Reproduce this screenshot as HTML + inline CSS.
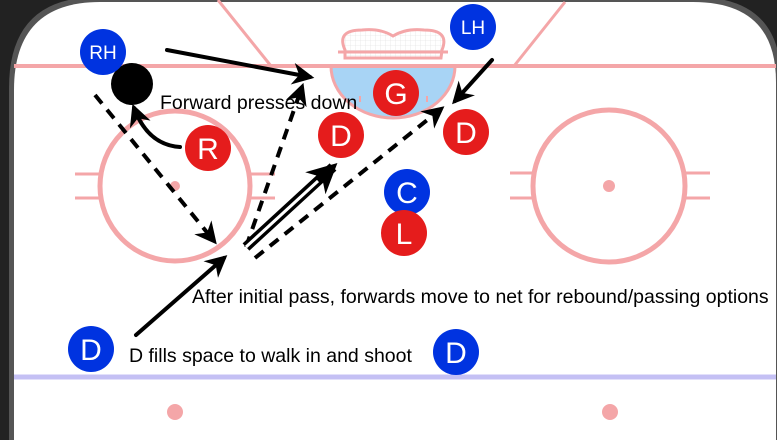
<!DOCTYPE html>
<html><head><meta charset="utf-8"><style>
html,body{margin:0;padding:0;background:#222;}
svg{display:block;}
text{font-family:"Liberation Sans",Arial,sans-serif;}
</style></head><body>
<svg width="777" height="440" viewBox="0 0 777 440" xmlns="http://www.w3.org/2000/svg">
<defs>
<marker id="ah" viewBox="0 0 10 10" refX="8" refY="5" markerWidth="5.5" markerHeight="5.5" orient="auto"><path d="M0,0 L10,5 L0,10 L3,5 z" fill="#000"/></marker>
<marker id="ah2" viewBox="0 0 10 10" refX="8" refY="5" markerWidth="3" markerHeight="3" orient="auto"><path d="M0,0 L10,5 L0,10 L3,5 z" fill="#000"/></marker>
<pattern id="grid" width="5" height="5" patternUnits="userSpaceOnUse"><path d="M5,0 L0,0 0,5" fill="none" stroke="#ddd" stroke-width="0.6"/></pattern>
</defs>
<rect width="777" height="440" fill="#222"/>
<path d="M9,440 L9,88 Q9,-3 98,-3 L695,-3 Q781,-3 781,80 L781,440 Z" fill="#555"/>
<path d="M14,440 L14,90 Q14,2 100,2 L693,2 Q776,2 776,82 L776,440 Z" fill="#fff"/>
<line x1="218" y1="0" x2="271" y2="66" stroke="#f4a6a8" stroke-width="3"/>
<line x1="565" y1="2" x2="514" y2="66" stroke="#f4a6a8" stroke-width="3"/>
<path d="M345,50 Q336,30 362,30 Q380,28 393,36 Q406,28 424,30 Q450,30 442,50 L441,58 L345,58 Z" fill="url(#grid)" stroke="#f4a6a8" stroke-width="3"/>
<line x1="338" y1="52" x2="448" y2="52" stroke="#f4a6a8" stroke-width="3"/>
<path d="M331,66 A62,52 0 0 0 455,66 Z" fill="#a8d4f5" stroke="#f4a6a8" stroke-width="3"/>
<line x1="360" y1="102" x2="360" y2="96" stroke="#f4a6a8" stroke-width="2"/>
<line x1="427" y1="102" x2="427" y2="96" stroke="#f4a6a8" stroke-width="2"/>
<line x1="14" y1="66" x2="776" y2="66" stroke="#f4a6a8" stroke-width="4"/>
<circle cx="175" cy="186" r="75" fill="none" stroke="#f4a6a8" stroke-width="5"/>
<g stroke="#f4a6a8" stroke-width="3"><line x1="75" y1="174" x2="100" y2="174"/><line x1="75" y1="198" x2="100" y2="198"/><line x1="250" y1="174" x2="275" y2="174"/><line x1="250" y1="198" x2="275" y2="198"/></g>
<circle cx="175" cy="186" r="5" fill="#f4a6a8"/>
<circle cx="609" cy="186" r="76" fill="none" stroke="#f4a6a8" stroke-width="5"/>
<g stroke="#f4a6a8" stroke-width="3"><line x1="510" y1="173" x2="533" y2="173"/><line x1="510" y1="198" x2="533" y2="198"/><line x1="685" y1="173" x2="710" y2="173"/><line x1="685" y1="198" x2="710" y2="198"/></g>
<circle cx="609" cy="186" r="6" fill="#f4a6a8"/>
<line x1="14" y1="377" x2="776" y2="377" stroke="#c4c0f4" stroke-width="5"/>
<circle cx="175" cy="412" r="8" fill="#f4a6a8"/>
<circle cx="610" cy="412" r="8" fill="#f4a6a8"/>
<g stroke="#000" stroke-width="4" fill="none" stroke-linecap="round">
<line x1="167" y1="50" x2="310" y2="77" marker-end="url(#ah)"/>
<path d="M180,147 Q148,145 134,108" marker-end="url(#ah)"/>
<line x1="492" y1="60" x2="455" y2="101" marker-end="url(#ah)"/>
<line x1="136" y1="335" x2="224" y2="258" marker-end="url(#ah)"/>
<g stroke-dasharray="11,8" stroke-linecap="butt">
<line x1="95" y1="95" x2="214" y2="241" marker-end="url(#ah)"/>
<line x1="246" y1="247" x2="302" y2="87" marker-end="url(#ah)"/>
<line x1="255" y1="258" x2="441" y2="109" marker-end="url(#ah)"/>
</g>
<line x1="246" y1="247" x2="333" y2="167" stroke-width="10" marker-end="url(#ah2)" stroke-linecap="butt"/>
<line x1="246" y1="247" x2="318" y2="181" stroke="#fff" stroke-width="3" stroke-linecap="butt"/>
</g>
<g font-size="19" fill="#fff" text-anchor="middle">
<circle cx="132" cy="84" r="21" fill="#000"/>
<circle cx="103" cy="52" r="23" fill="#0033e0"/><text x="103" y="59">RH</text>
<circle cx="473" cy="27" r="23" fill="#0033e0"/><text x="473" y="34">LH</text>
</g>
<g font-size="30" fill="#fff" text-anchor="middle">
<circle cx="208" cy="148" r="23" fill="#e51c1c"/><text x="208" y="159">R</text>
<circle cx="396" cy="93" r="23" fill="#e51c1c"/><text x="396" y="104">G</text>
<circle cx="341" cy="135" r="23" fill="#e51c1c"/><text x="341" y="146">D</text>
<circle cx="466" cy="132" r="23" fill="#e51c1c"/><text x="466" y="143">D</text>
<circle cx="407" cy="192" r="23" fill="#0033e0"/><text x="407" y="203">C</text>
<circle cx="404" cy="233" r="23" fill="#e51c1c"/><text x="404" y="244">L</text>
<circle cx="91" cy="349" r="23" fill="#0033e0"/><text x="91" y="360">D</text>
<circle cx="456" cy="352" r="23" fill="#0033e0"/><text x="456" y="363">D</text>
</g>
<g font-size="19.5" fill="#000">
<text x="160" y="109">Forward presses down</text>
<text x="192" y="303">After initial pass, forwards move to net for rebound/passing options</text>
<text x="129" y="362">D fills space to walk in and shoot</text>
</g>
</svg>
</body></html>
